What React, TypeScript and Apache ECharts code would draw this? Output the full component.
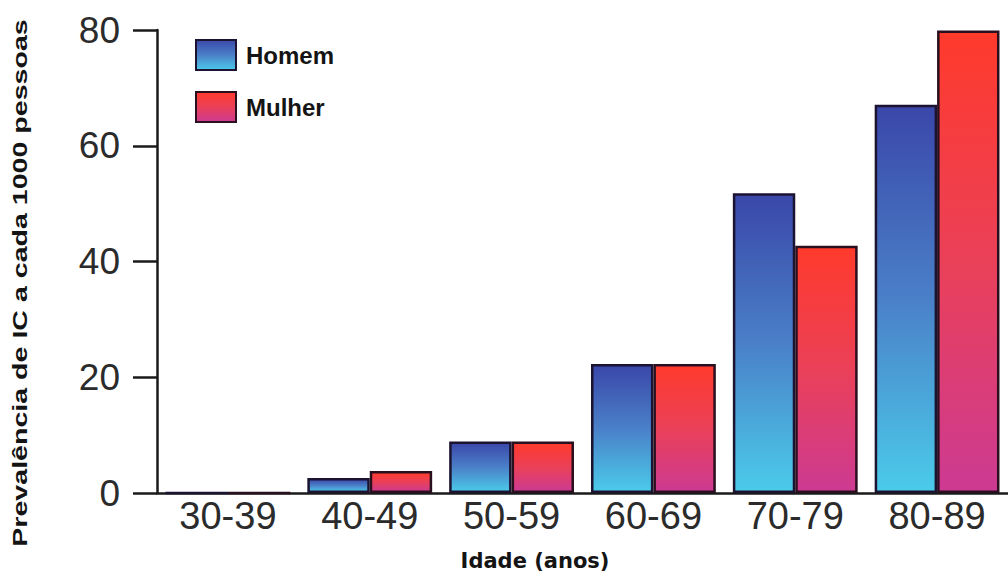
import React, { useEffect, useRef } from "react";
import * as echarts from "echarts";

const categories = ["30-39", "40-49", "50-59", "60-69", "70-79", "80-89"];
const homem = [0, 2.6, 8.9, 22.3, 51.8, 67.1];
const mulher = [0, 3.8, 8.9, 22.3, 42.7, 79.9];
const seriesNames = ["Homem", "Mulher"];
const yTitle = "Prevalência de IC a cada 1000 pessoas";
const xTitle = "Idade (anos)";

export default function App() {
  const ref = useRef<HTMLDivElement>(null);
  useEffect(() => {
    if (!ref.current) return;
    const chart = echarts.init(ref.current, null, { renderer: "svg" });
    const blue = new echarts.graphic.LinearGradient(0, 0, 0, 1, [
      { offset: 0, color: "#3a47a9" },
      { offset: 0.5, color: "#4a80c8" },
      { offset: 1, color: "#4bcbea" },
    ]);
    const red = new echarts.graphic.LinearGradient(0, 0, 0, 1, [
      { offset: 0, color: "#ff3a2c" },
      { offset: 0.5, color: "#ea4058" },
      { offset: 1, color: "#cc3a92" },
    ]);
    chart.setOption({
      animation: false,
      backgroundColor: "#ffffff",
      grid: { left: 157, top: 30, bottom: 84, width: 860 },
      legend: {
        orient: "vertical",
        left: 190,
        top: 34,
        itemWidth: 40,
        itemHeight: 30,
        itemGap: 20,
        icon: "rect",
        textStyle: {
          fontFamily: "Liberation Sans",
          fontWeight: "bold",
          fontSize: 24,
          color: "#141414",
          padding: [0, 0, 0, 5],
        },
        data: seriesNames,
      },
      xAxis: {
        type: "category",
        data: categories,
        axisLine: { lineStyle: { color: "#1a1a1a", width: 2.5 } },
        axisTick: { show: false },
        axisLabel: {
          fontFamily: "Liberation Sans",
          fontSize: 38,
          color: "#2b2b2b",
          margin: 4,
        },
      },
      yAxis: {
        type: "value",
        min: 0,
        max: 80,
        interval: 20,
        splitLine: { show: false },
        axisLine: { show: true, lineStyle: { color: "#1a1a1a", width: 2.5 } },
        axisTick: { show: true, length: 24, lineStyle: { color: "#1a1a1a", width: 2.5 } },
        axisLabel: {
          fontFamily: "Liberation Sans",
          fontSize: 37,
          color: "#2b2b2b",
          margin: 37,
        },
      },
      graphic: [
        {
          type: "text",
          x: 20,
          y: 283,
          rotation: Math.PI / 2,
          scaleX: 1.43,
          style: {
            text: yTitle,
            font: "bold 20px 'Liberation Sans'",
            fill: "#141414",
            textAlign: "center",
            textVerticalAlign: "middle",
          },
        },
        {
          type: "text",
          x: 535,
          y: 561,
          style: {
            text: xTitle,
            font: "bold 21px 'DejaVu Sans'",
            fill: "#141414",
            textAlign: "center",
            textVerticalAlign: "middle",
          },
        },
      ],
      series: [
        {
          name: seriesNames[0],
          type: "bar",
          data: homem,
          barGap: "0%",
          barCategoryGap: "12%",
          itemStyle: { color: blue, borderColor: "#1b1330", borderWidth: 2.5 },
        },
        {
          name: seriesNames[1],
          type: "bar",
          data: mulher,
          barGap: "0%",
          barCategoryGap: "12%",
          itemStyle: { color: red, borderColor: "#2a0f1e", borderWidth: 2.5 },
        },
      ],
    });
    return () => chart.dispose();
  }, []);
  return (
    <div
      ref={ref}
      style={{ position: "absolute", left: 0, top: 0, width: 1008, height: 577 }}
    />
  );
}
